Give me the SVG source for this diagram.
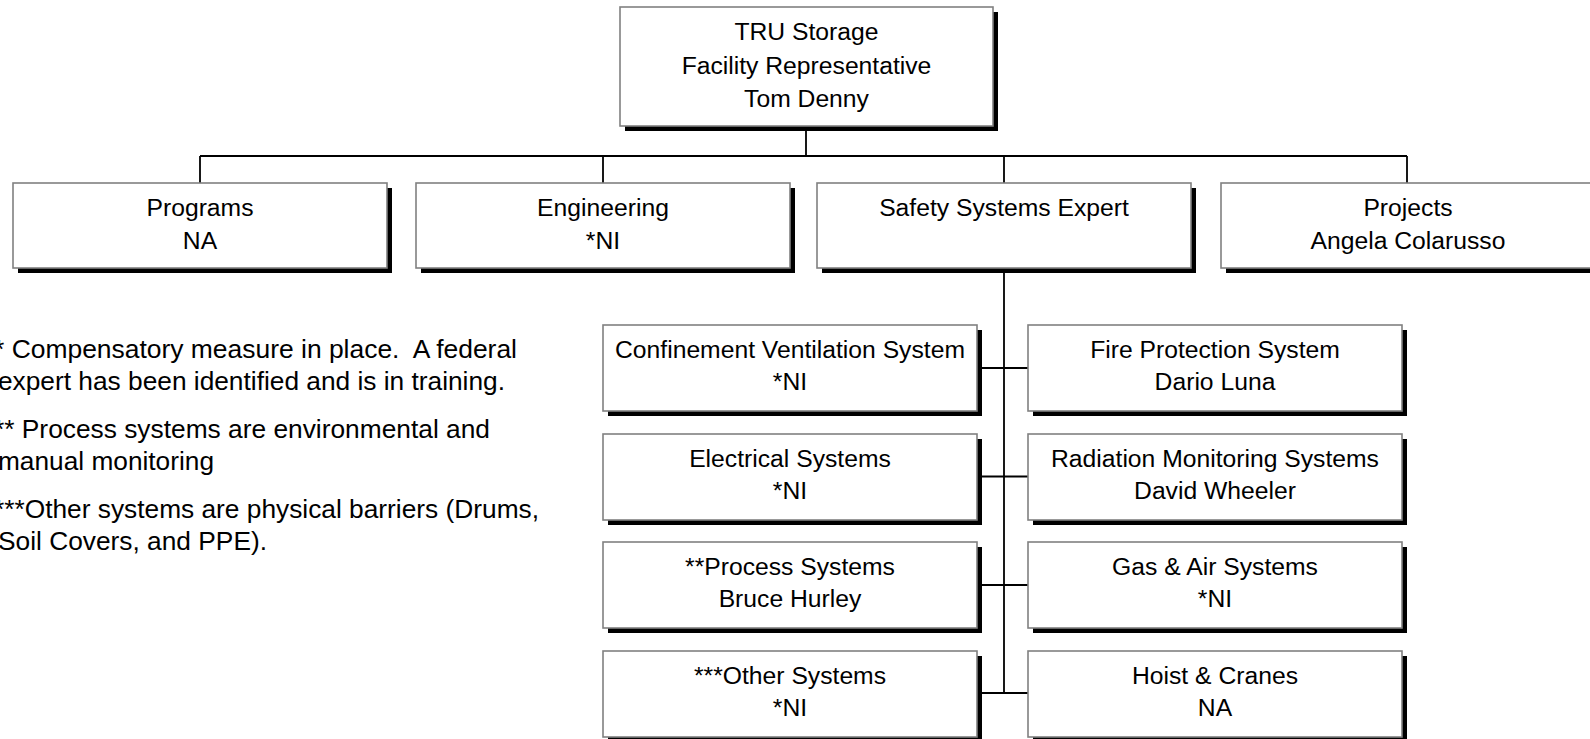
<svg xmlns="http://www.w3.org/2000/svg" width="1590" height="739" viewBox="0 0 1590 739">
<style>
.bg{fill:#ffffff}
.box{fill:#ffffff;stroke:#808080;stroke-width:1.6}
.sh{fill:#000000}
.t{font-family:"Liberation Sans",Arial,sans-serif;font-size:24.7px;fill:#000000;text-anchor:middle}
.n{font-family:"Liberation Sans",Arial,sans-serif;font-size:25px;fill:#000000}
.c{fill:none;stroke:#000000;stroke-width:1.8}
</style>
<rect class="bg" x="0" y="0" width="1590" height="739"/>
<g id="connectors">
<path class="c" d="M806,126 V156 M200,156 H1407 M200,156 V183 M603,156 V183 M1004,156 V183 M1407,156 V183"/>
<path class="c" d="M1004,268 V693 M977,368 H1028 M977,476.5 H1028 M977,585 H1028 M977,693 H1028"/>
</g>
<g id="tru-storage">
<rect class="sh" x="625" y="12" width="373" height="119"/>
<rect class="box" x="620" y="7" width="373" height="119"/>
<text class="t" x="806.5" y="40">TRU Storage</text>
<text class="t" x="806.5" y="73.5">Facility Representative</text>
<text class="t" x="806.5" y="107">Tom Denny</text>
</g>
<g id="programs">
<rect class="sh" x="18" y="188" width="374" height="85"/>
<rect class="box" x="13" y="183" width="374" height="85"/>
<text class="t" x="200" y="216">Programs</text>
<text class="t" x="200" y="249">NA</text>
</g>
<g id="engineering">
<rect class="sh" x="421" y="188" width="374" height="85"/>
<rect class="box" x="416" y="183" width="374" height="85"/>
<text class="t" x="603" y="216">Engineering</text>
<text class="t" x="603" y="249">*NI</text>
</g>
<g id="safety-systems-expert">
<rect class="sh" x="822" y="188" width="374" height="85"/>
<rect class="box" x="817" y="183" width="374" height="85"/>
<text class="t" x="1004" y="216">Safety Systems Expert</text>
</g>
<g id="projects">
<rect class="sh" x="1226" y="188" width="374" height="85"/>
<rect class="box" x="1221" y="183" width="374" height="85"/>
<text class="t" x="1408" y="216">Projects</text>
<text class="t" x="1408" y="249">Angela Colarusso</text>
</g>
<g id="confinement-ventilation">
<rect class="sh" x="608" y="330" width="374" height="86"/>
<rect class="box" x="603" y="325" width="374" height="86"/>
<text class="t" x="790" y="358">Confinement Ventilation System</text>
<text class="t" x="790" y="390">*NI</text>
</g>
<g id="electrical">
<rect class="sh" x="608" y="439" width="374" height="86"/>
<rect class="box" x="603" y="434" width="374" height="86"/>
<text class="t" x="790" y="467">Electrical Systems</text>
<text class="t" x="790" y="499">*NI</text>
</g>
<g id="process">
<rect class="sh" x="608" y="547" width="374" height="86"/>
<rect class="box" x="603" y="542" width="374" height="86"/>
<text class="t" x="790" y="575">**Process Systems</text>
<text class="t" x="790" y="607">Bruce Hurley</text>
</g>
<g id="other">
<rect class="sh" x="608" y="656" width="374" height="86"/>
<rect class="box" x="603" y="651" width="374" height="86"/>
<text class="t" x="790" y="684">***Other Systems</text>
<text class="t" x="790" y="716">*NI</text>
</g>
<g id="fire-protection">
<rect class="sh" x="1033" y="330" width="374" height="86"/>
<rect class="box" x="1028" y="325" width="374" height="86"/>
<text class="t" x="1215" y="358">Fire Protection System</text>
<text class="t" x="1215" y="390">Dario Luna</text>
</g>
<g id="radiation-monitoring">
<rect class="sh" x="1033" y="439" width="374" height="86"/>
<rect class="box" x="1028" y="434" width="374" height="86"/>
<text class="t" x="1215" y="467">Radiation Monitoring Systems</text>
<text class="t" x="1215" y="499">David Wheeler</text>
</g>
<g id="gas-air">
<rect class="sh" x="1033" y="547" width="374" height="86"/>
<rect class="box" x="1028" y="542" width="374" height="86"/>
<text class="t" x="1215" y="575">Gas &amp; Air Systems</text>
<text class="t" x="1215" y="607">*NI</text>
</g>
<g id="hoist-cranes">
<rect class="sh" x="1033" y="656" width="374" height="86"/>
<rect class="box" x="1028" y="651" width="374" height="86"/>
<text class="t" x="1215" y="684">Hoist &amp; Cranes</text>
<text class="t" x="1215" y="716">NA</text>
</g>
<g id="notes">
<text class="n" x="-6" y="358" xml:space="preserve" textLength="523" lengthAdjust="spacingAndGlyphs">* Compensatory measure in place.  A federal</text>
<text class="n" x="-2" y="390" textLength="507" lengthAdjust="spacingAndGlyphs">expert has been identified and is in training.</text>
<text class="n" x="-6" y="438" textLength="496" lengthAdjust="spacingAndGlyphs">** Process systems are environmental and</text>
<text class="n" x="-2" y="470" textLength="216" lengthAdjust="spacingAndGlyphs">manual monitoring</text>
<text class="n" x="-6" y="518" textLength="545" lengthAdjust="spacingAndGlyphs">***Other systems are physical barriers (Drums,</text>
<text class="n" x="-2" y="550" textLength="269" lengthAdjust="spacingAndGlyphs">Soil Covers, and PPE).</text>
</g>
</svg>
